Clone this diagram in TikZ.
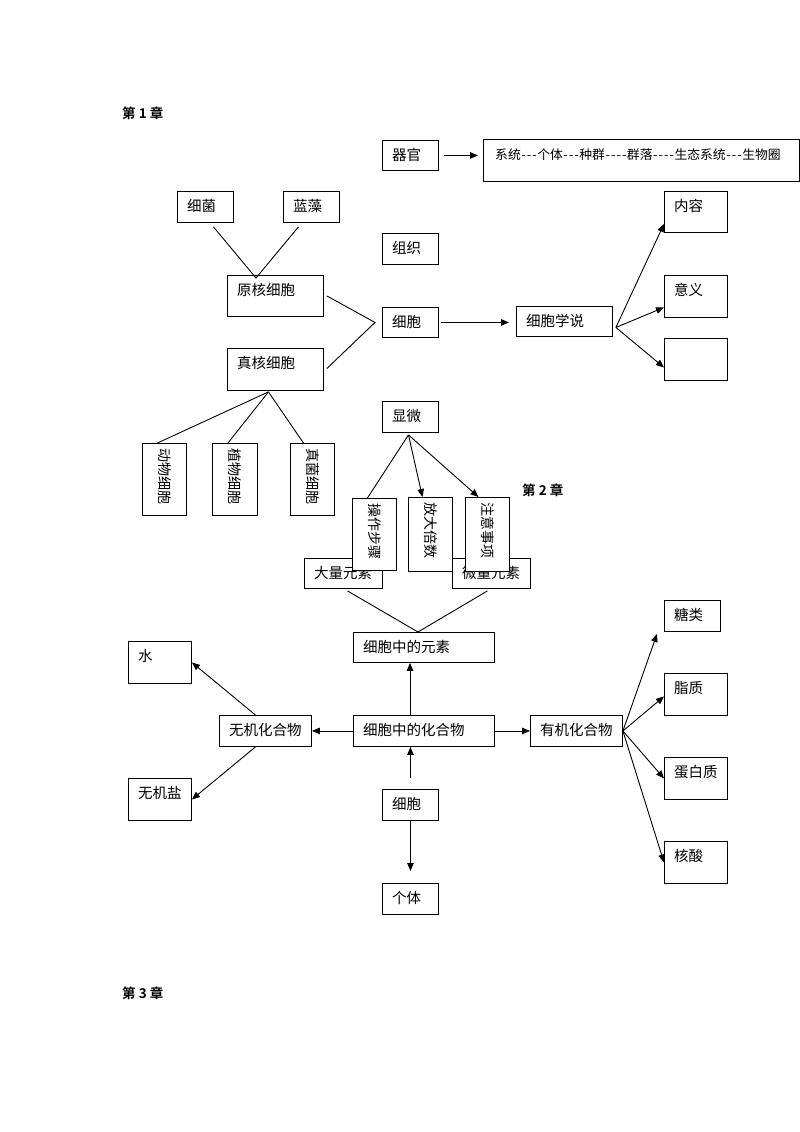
\documentclass[tikz,border=0pt]{standalone}
\usepackage{fontspec}
\setmainfont{Noto Sans CJK SC}
\newfontfamily\cjkbold{Noto Sans CJK SC Bold}
\usetikzlibrary{arrows.meta,calc}
\newcommand\hy{\makebox[5.5pt]{-}}
\tikzset{
  box/.style={draw,line width=0.9pt,fill=white,inner sep=0pt,anchor=north west},
  txt/.style={anchor=west,inner sep=0pt,font=\fontsize{14.5}{16}\selectfont},
  vtxt/.style={anchor=west,rotate=-90,inner sep=0pt,font=\fontsize{14}{16}\selectfont},
  head/.style={anchor=west,inner sep=0pt,font=\cjkbold\fontsize{13.5}{15}\selectfont},
  ln/.style={line width=0.9pt},
  arr/.style={line width=0.9pt,-{Triangle[length=8pt,width=6.5pt]}},
}
\newcommand\bx[6]{\node[box,minimum width=#4pt,minimum height=#5pt] (#1) at (#2,#3) {};
  \node[txt] (#1t) at ($(#1.north west)+(10,15)$) {#6};}
\newcommand\vbx[6]{\node[box,minimum width=#4pt,minimum height=#5pt] (#1) at (#2,#3) {};
  \node[vtxt] (#1t) at ($(#1.north)+(0,5)$) {#6};}
\begin{document}
\begin{tikzpicture}[x=1pt,y=-1pt]
\useasboundingbox (0,0) rectangle (800,1132);
% chapter heads
\node[head] (ch1) at (122,113) {第 1 章};
\node[head] (ch2) at (522,490) {第 2 章};
\node[head] (ch3) at (122,993) {第 3 章};
% top part
\bx{qiguan}{382}{140}{56}{30}{器官}
\node[box,minimum width=316pt,minimum height=42pt] (xitong) at (483,139) {};
\node[txt,font=\fontsize{12.8}{14}\selectfont] (xitongt) at ($(xitong.north west)+(12,16)$) {系统\hy\hy\hy 个体\hy\hy\hy 种群\hy\hy\hy\hy 群落\hy\hy\hy\hy 生态系统\hy\hy\hy 生物圈};
\bx{xijun}{177}{191}{56}{31}{细菌}
\bx{lanzao}{283}{191}{56}{31}{蓝藻}
\bx{yuanhe}{227}{275}{96}{41}{原核细胞}
\bx{zuzhi}{382}{233}{56}{31}{组织}
\bx{xibao}{382}{307}{56}{30}{细胞}
\bx{xuesh}{516}{306}{96}{30}{细胞学说}
\bx{neirong}{664}{191}{63}{41}{内容}
\bx{yiyi}{664}{275}{63}{42}{意义}
\node[box,minimum width=63pt,minimum height=42pt] (kong) at (664,338) {};
\bx{zhenhe}{227}{348}{96}{42}{真核细胞}
\vbx{dongwu}{142}{443}{44}{72}{动物细胞}
\vbx{zhiwu}{212}{443}{45}{72}{植物细胞}
\vbx{zhenjun}{290}{443}{44}{72}{真菌细胞}
\bx{xianwei}{382}{401}{56}{31}{显微}
% chapter 2
\bx{daliang}{304}{558}{78}{30}{大量元素}
\bx{weiliang}{452}{558}{78}{30}{微量元素}
\vbx{caozuo}{352}{498}{44}{72}{操作步骤}
\vbx{fangda}{408}{497}{44}{74}{放大倍数}
\vbx{zhuyi}{465}{497}{44}{74}{注意事项}
\bx{yuansu}{353}{632}{141}{30}{细胞中的元素}
\bx{huahe}{353}{715}{141}{31}{细胞中的化合物}
\bx{wuji}{219}{715}{92}{31}{无机化合物}
\bx{shui}{128}{641}{63}{42}{水}
\bx{wujiyan}{128}{778}{63}{42}{无机盐}
\bx{xibaoB}{382}{789}{56}{31}{细胞}
\bx{geti}{382}{883}{56}{31}{个体}
\bx{youji}{530}{715}{92}{31}{有机化合物}
\bx{tanglei}{664}{600}{56}{31}{糖类}
\bx{zhizhi}{664}{673}{63}{42}{脂质}
\bx{danbai}{664}{757}{63}{42}{蛋白质}
\bx{hesuan}{664}{841}{63}{42}{核酸}
% ---- connectors, top
\draw[arr] ($(qiguan.east)+(5,0)$) -- ($(qiguan.east -| xitong.west)+(-5,0)$);
\coordinate (ya) at ($(yuanhe.north west)+(29,3)$);
\draw[ln] ($(xijun.south)+(8,4)$) -- (ya) -- ($(lanzao.south)+(-13,4)$);
\coordinate (vx) at ($(xibao.west)+(-7,0)$);
\draw[ln] ($(yuanhe.east)+(3,0)$) -- (vx) -- ($(zhenhe.east)+(3,-1)$);
\draw[arr,shorten <=2pt,shorten >=7pt] (xibao.east) -- (xibao.east -| xuesh.west);
\coordinate (xs) at ($(xuesh.east)+(3,6)$);
\draw[arr] (xs) -- ($(neirong.south west)+(0,-9)$);
\draw[arr] (xs) -- ($(yiyi.west)+(0,11)$);
\draw[arr] (xs) -- ($(kong.west)+(0,8)$);
\coordinate (za) at ($(zhenhe.south)+(-7,1)$);
\draw[ln] (za) -- ($(dongwu.north)+(-7,0)$);
\draw[ln] (za) -- ($(zhiwu.north)+(-7,0)$);
\draw[ln] (za) -- ($(zhenjun.north)+(-9,0)$);
\coordinate (xa) at ($(xianwei.south)+(-2,2)$);
\draw[ln] (xa) -- ($(caozuo.north)+(-7,0)$);
\draw[arr] (xa) -- ($(fangda.north)+(-8,0)$);
\draw[arr] (xa) -- ($(zhuyi.north)+(-9,0)$);
% ---- chapter 2 connectors
\coordinate (ye) at ($(yuansu.north)+(-6,0)$);
\draw[ln] ($(daliang.south)+(4,2)$) -- (ye) -- ($(weiliang.south)+(-4,2)$);
\coordinate (hx) at ($(huahe.north west)+(57,0)$);
\draw[arr] (hx) -- (hx |- yuansu.south);
\draw[arr] (huahe.west) -- (wuji.east);
\draw[arr] ($(wuji.north)+(-10,0)$) -- (shui.east);
\draw[arr] ($(wuji.south)+(-10,0)$) -- (wujiyan.east);
\draw[arr,shorten <=11pt] (xibaoB.north) -- (xibaoB.north |- huahe.south);
\draw[arr,shorten >=12pt] (xibaoB.south) -- (geti.north);
\draw[arr] (huahe.east) -- (youji.west);
\draw[arr] (youji.east) -- ($(tanglei.south west)+(-7,2)$);
\draw[arr] (youji.east) -- ($(zhizhi.west)+(0,2)$);
\draw[arr] (youji.east) -- (danbai.west);
\draw[arr] (youji.east) -- (hesuan.west);
\end{tikzpicture}
\end{document}
